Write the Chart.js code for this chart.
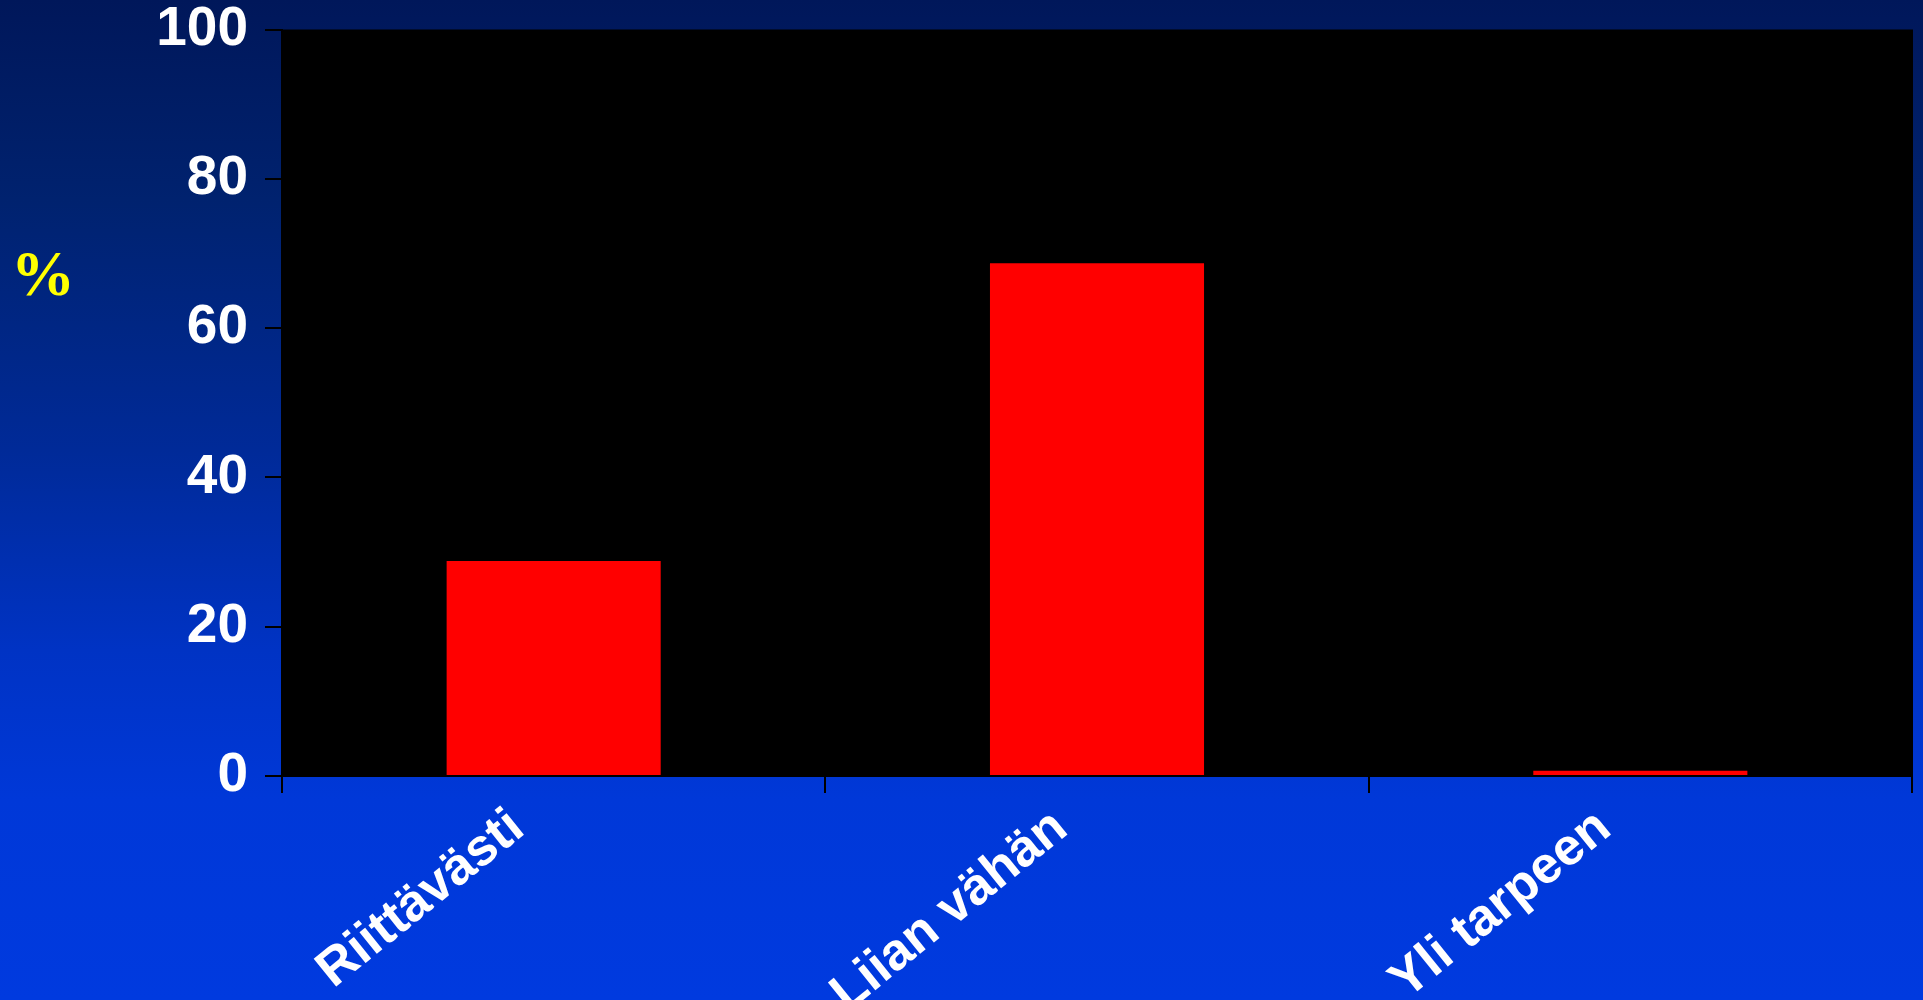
<!DOCTYPE html>
<html>
<head>
<meta charset="utf-8">
<script src="https://cdn.jsdelivr.net/npm/chart.js@4/dist/chart.umd.min.js"></script>
<style>
  html, body { margin: 0; padding: 0; }
  body {
    width: 1923px; height: 1000px; overflow: hidden;
    background: linear-gradient(to bottom, #00175a 0%, #00226f 20%, #002a98 45%, #0033c4 65%, #0038d8 80%, #003adf 100%);
  }
  #wrap { position: relative; width: 1923px; height: 1000px; }
  canvas { display: block; }
</style>
</head>
<body>
<div id="wrap"><canvas id="c" width="1923" height="1000"></canvas></div>
<script>
// ---- data ----
const categories = ["Riittävästi", "Liian vähän", "Yli tarpeen"];
const values = [28.8, 68.7, 0.7];
const yTickValues = [0, 20, 40, 60, 80, 100];
const yAxisLabel = "%";

// ---- plugins ----
const plotBackground = {
  id: 'plotBackground',
  beforeDraw(chart) {
    const { ctx, chartArea: a } = chart;
    ctx.save();
    ctx.fillStyle = '#000000';
    ctx.fillRect(a.left, a.top, a.right - a.left + 1, a.bottom - a.top + 1);
    ctx.restore();
  }
};

const unitLabel = {
  id: 'unitLabel',
  afterDraw(chart) {
    const { ctx } = chart;
    ctx.save();
    ctx.fillStyle = '#ffff00';
    ctx.font = 'bold 64px "Liberation Serif", "Times New Roman", serif';
    ctx.textAlign = 'center';
    ctx.textBaseline = 'middle';
    ctx.fillText(yAxisLabel, 43, 278);
    ctx.restore();
  }
};

const tickFont = { family: '"Liberation Sans", Arial, sans-serif', weight: 'bold', size: 55, lineHeight: 1.0 };

new Chart(document.getElementById('c'), {
  type: 'bar',
  data: {
    labels: categories,
    datasets: [{
      data: values,
      backgroundColor: '#ff0000',
      borderWidth: 0,
      categoryPercentage: 1.0,
      barPercentage: 0.394
    }]
  },
  options: {
    responsive: false,
    animation: false,
    devicePixelRatio: 1,
    layout: { padding: { left: 158, top: 29.5, right: 11, bottom: 0 } },
    plugins: { legend: { display: false }, tooltip: { enabled: false } },
    scales: {
      x: {
        grid: { display: true, drawOnChartArea: false, drawTicks: true, tickLength: 17, color: '#000000', lineWidth: 2, offset: true },
        border: { display: true, color: '#000000', width: 2 },
        ticks: {
          color: '#ffffff',
          font: { family: '"Liberation Sans", Arial, sans-serif', weight: 'bold', size: 52, lineHeight: 1.2 },
          minRotation: 39, maxRotation: 39,
          padding: 4,
          labelOffset: -36,
          autoSkip: false
        },
        afterFit(scale) { scale.height = 224; scale.paddingLeft = 0; scale.paddingRight = 0; }
      },
      y: {
        min: yTickValues[0],
        max: yTickValues[yTickValues.length - 1],
        afterBuildTicks(scale) { scale.ticks = yTickValues.map(v => ({ value: v })); },
        grid: { display: true, drawOnChartArea: false, drawTicks: true, tickLength: 17, color: '#000000', lineWidth: 2 },
        border: { display: true, color: '#000000', width: 2 },
        ticks: { color: '#ffffff', font: tickFont, padding: 17 },
        afterFit(scale) { scale.width = 124; scale.paddingTop = 0; scale.paddingBottom = 0; }
      }
    }
  },
  plugins: [plotBackground, unitLabel]
});
</script>
</body>
</html>
